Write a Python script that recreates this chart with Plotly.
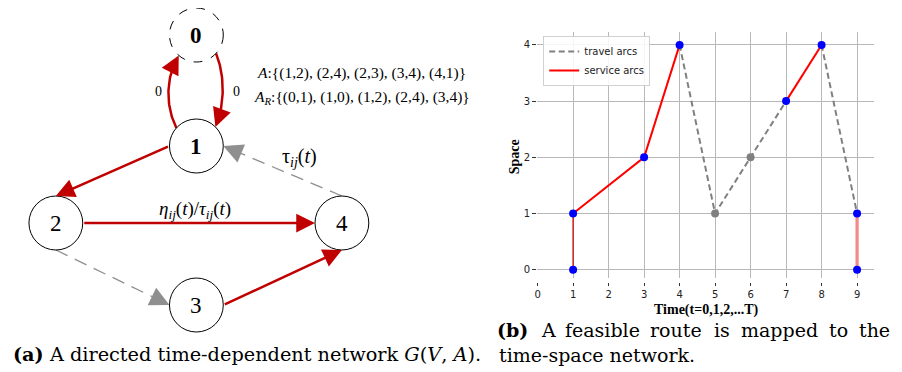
import math
import plotly.graph_objects as go

# ---------------- data: left network ----------------
node_ids = [0, 1, 2, 3, 4]
node_x = [194, 194, 53, 194, 340]
node_y = [35, 146, 223, 305, 223]
node_bold = [True, True, False, False, False]
node_dashed = [True, False, False, False, False]
node_r = 27

edge_src = [1, 0, 1, 2, 3, 4, 2]
edge_dst = [0, 1, 2, 4, 4, 1, 3]
edge_kind = ["service", "service", "service", "service", "service", "travel", "travel"]
edge_src_angle = [222, 43, 180, 0, 0, 270, 90]
edge_dst_angle = [131, 315, 270, 180, 90, 0, 180]
edge_bend = [-11, 9, 0, 0, 0, 0, 0]

set_A = "<i>A</i>:{(1,2), (2,4), (2,3), (3,4), (4,1)}"
set_AR = "<i>A<sub>R</sub></i>:{(0,1), (1,0), (1,2), (2,4), (3,4)}"

# ---------------- data: right time-space chart ----------------
time_ticks = [0, 1, 2, 3, 4, 5, 6, 7, 8, 9]
space_ticks = [0, 1, 2, 3, 4]
start_t, start_s = [1, 1], [0, 1]
service1_t, service1_s = [1, 3, 4], [1, 2, 4]
travel1_t, travel1_s = [4, 5, 6, 7], [4, 1, 2, 3]
service2_t, service2_s = [7, 8], [3, 4]
travel2_t, travel2_s = [8, 9], [4, 1]
end_t, end_s = [9, 9], [1, 0]
stop_t = [1, 1, 3, 4, 7, 8, 9, 9]
stop_s = [0, 1, 2, 4, 3, 4, 1, 0]
pass_t = [5, 6]
pass_s = [1, 2]

caption_a = "<b>(a)</b> A directed time-dependent network <i>G</i>(<i>V</i>, <i>A</i>)."
caption_b_words = ["<b>(b)</b>", "A", "feasible", "route", "is", "mapped", "to", "the"]
caption_b_line2 = "time-space network."

RED = "#c00000"
GRAY = "#8f8f8f"
W, H = 902, 372
OFF = 8  # page body margin


def px(sx):
    return (sx - OFF) / W


def py(sy):
    return 1 - (sy - OFF) / H


fig = go.Figure()
annotations = []
shapes = []

# nodes
for i, nid in enumerate(node_ids):
    shapes.append(dict(type="circle", xref="x", yref="y",
                       x0=node_x[i] - node_r, x1=node_x[i] + node_r,
                       y0=node_y[i] - node_r, y1=node_y[i] + node_r,
                       line=dict(color="black", width=1, dash="dash" if node_dashed[i] else "solid"),
                       fillcolor="white", layer="above"))
    txt = f"<b>{nid}</b>" if node_bold[i] else str(nid)
    annotations.append(dict(x=node_x[i], y=node_y[i], xref="x", yref="y", text=txt,
                            xanchor="center", yanchor="middle",
                            showarrow=False, font=dict(family="Liberation Serif", size=23, color="black")))


def port(n, ang):
    a = math.radians(ang)
    return node_x[n] + node_r * math.cos(a), node_y[n] + node_r * math.sin(a)


for k in range(len(edge_src)):
    sx, sy = port(edge_src[k], edge_src_angle[k])
    tx, ty = port(edge_dst[k], edge_dst_angle[k])
    color = RED if edge_kind[k] == "service" else GRAY
    width = 2.5 if edge_kind[k] == "service" else 1.3
    if edge_bend[k] != 0:
        cx = min(sx, tx) + edge_bend[k] if edge_bend[k] < 0 else max(sx, tx) + edge_bend[k]
        c1 = (cx, sy + (ty - sy) * 0.3)
        c2 = (cx, sy + (ty - sy) * 0.7)
        pts = []
        for j in range(41):
            t = j / 40
            bx = (1 - t) ** 3 * sx + 3 * (1 - t) ** 2 * t * c1[0] + 3 * (1 - t) * t ** 2 * c2[0] + t ** 3 * tx
            by = (1 - t) ** 3 * sy + 3 * (1 - t) ** 2 * t * c1[1] + 3 * (1 - t) * t ** 2 * c2[1] + t ** 3 * ty
            pts.append((bx, by))
        fig.add_trace(go.Scatter(x=[p[0] for p in pts[:36]], y=[p[1] for p in pts[:36]], mode="lines",
                                 line=dict(color=color, width=width), xaxis="x", yaxis="y",
                                 showlegend=False, hoverinfo="skip"))
        ax, ay = pts[35]
        annotations.append(dict(x=tx, y=ty, ax=ax, ay=ay, xref="x", yref="y", axref="x", ayref="y",
                                text="", showarrow=True, arrowhead=2, arrowsize=1.5,
                                arrowwidth=width, arrowcolor=color, standoff=0, startstandoff=0))
    elif edge_kind[k] == "service":
        annotations.append(dict(x=tx, y=ty, ax=sx, ay=sy, xref="x", yref="y", axref="x", ayref="y",
                                text="", showarrow=True, arrowhead=2, arrowsize=1.5,
                                arrowwidth=width, arrowcolor=color, standoff=0, startstandoff=0))
    else:
        L = math.hypot(tx - sx, ty - sy)
        ux, uy = (tx - sx) / L, (ty - sy) / L
        fig.add_trace(go.Scatter(x=[sx, tx - 8 * ux], y=[sy, ty - 8 * uy], mode="lines",
                                 line=dict(color=color, width=width, dash="13px,8px"),
                                 xaxis="x", yaxis="y", showlegend=False, hoverinfo="skip"))
        annotations.append(dict(x=tx, y=ty, ax=tx - 10 * ux, ay=ty - 10 * uy, xref="x", yref="y",
                                axref="x", ayref="y", text="", showarrow=True, arrowhead=2,
                                arrowsize=2.6, arrowwidth=1.5, arrowcolor=color, standoff=0))

# edge labels
lab_font = dict(family="Liberation Serif", size=14, color="black")
annotations += [
    dict(x=156, y=91, text="0", font=lab_font),
    dict(x=234, y=91, text="0", font=lab_font),
    dict(x=297, y=157, text="τ<sub><i>ij</i></sub>(<i>t</i>)",
         font=dict(family="Liberation Serif", size=20, color="black")),
    dict(x=193, y=210, text="<i>η<sub>ij</sub></i>(<i>t</i>)/<i>τ<sub>ij</sub></i>(<i>t</i>)",
         font=dict(family="Liberation Serif", size=19, color="black")),
    dict(x=360, y=73, text=set_A, font=dict(family="Liberation Serif", size=15.5, color="black")),
    dict(x=360, y=97, text=set_AR, font=dict(family="Liberation Serif", size=15.5, color="black")),
]
for a in annotations[-6:]:
    a.update(xref="x", yref="y", showarrow=False, xanchor="center", yanchor="middle")

# ---------------- right chart ----------------
fig.add_trace(go.Scatter(x=start_t, y=start_s, mode="lines", line=dict(color="#d40000", width=1.3),
                         xaxis="x2", yaxis="y2", showlegend=False, hoverinfo="skip"))
fig.add_trace(go.Scatter(x=end_t, y=end_s, mode="lines", line=dict(color="#f28a8a", width=3.2),
                         xaxis="x2", yaxis="y2", showlegend=False, hoverinfo="skip"))
fig.add_trace(go.Scatter(x=travel1_t, y=travel1_s, mode="lines", name="travel arcs",
                         line=dict(color="#808080", width=2, dash="6px,3.5px"),
                         xaxis="x2", yaxis="y2", legendgroup="travel"))
fig.add_trace(go.Scatter(x=service1_t, y=service1_s, mode="lines", name="service arcs",
                         line=dict(color="#ff0000", width=2), xaxis="x2", yaxis="y2", legendgroup="service"))
fig.add_trace(go.Scatter(x=service2_t, y=service2_s, mode="lines", line=dict(color="#ff0000", width=2),
                         xaxis="x2", yaxis="y2", legendgroup="service", showlegend=False))
fig.add_trace(go.Scatter(x=travel2_t, y=travel2_s, mode="lines",
                         line=dict(color="#808080", width=2, dash="6px,3.5px"),
                         xaxis="x2", yaxis="y2", legendgroup="travel", showlegend=False))
fig.add_trace(go.Scatter(x=pass_t, y=pass_s, mode="markers", marker=dict(color="#808080", size=8),
                         xaxis="x2", yaxis="y2", showlegend=False))
fig.add_trace(go.Scatter(x=stop_t, y=stop_s, mode="markers", marker=dict(color="#0000ff", size=8),
                         xaxis="x2", yaxis="y2", showlegend=False))

tick_font = dict(family="DejaVu Sans", size=10, color="#222222")
axis_title_font = dict(family="Liberation Serif", size=14, color="black")
annotations += [
    dict(x=px(705), y=py(310), xref="paper", yref="paper", text="<b>Time(t=0,1,2,...T)</b>",
         xanchor="center", yanchor="middle", showarrow=False, font=axis_title_font),
    dict(x=px(513), y=py(157), xref="paper", yref="paper", text="<b>Space</b>", textangle=-90,
         xanchor="center", yanchor="middle", showarrow=False, font=axis_title_font),
]

cap_font = dict(family="DejaVu Serif", size=19, color="black")
annotations.append(dict(x=px(8), y=py(354), xref="paper", yref="paper", xanchor="left", yanchor="middle",
                        text=caption_a, showarrow=False, font=dict(family="DejaVu Serif", size=19.3,
                                                                    color="black")))
word_left = [494, 538, 562, 647, 711, 738, 827, 857]
for wtxt, wx in zip(caption_b_words, word_left):
    annotations.append(dict(x=px(wx), y=py(330), xref="paper", yref="paper", xanchor="left",
                            yanchor="middle", text=wtxt, showarrow=False, font=cap_font))
annotations.append(dict(x=px(496), y=py(355), xref="paper", yref="paper", xanchor="left", yanchor="middle",
                        text=caption_b_line2, showarrow=False, font=cap_font))

fig.update_layout(
    width=W, height=H, margin=dict(l=0, r=0, t=0, b=0),
    paper_bgcolor="white", plot_bgcolor="rgba(0,0,0,0)",
    xaxis=dict(domain=[0, 480 / W], range=[OFF, 480 + OFF], visible=False, fixedrange=True),
    yaxis=dict(domain=[0, 1], range=[H + OFF, OFF], visible=False, fixedrange=True),
    xaxis2=dict(domain=[px(536), px(874)], range=[-0.01, 9.48], anchor="free", position=py(282),
                tickvals=time_ticks, ticktext=[str(v) for v in time_ticks],
                showgrid=True, gridcolor="#b8b8b8", gridwidth=1, zeroline=False, showline=False,
                ticks="outside", ticklen=3, tickcolor="#333", tickfont=tick_font),
    yaxis2=dict(domain=[py(278), py(32)], range=[-0.148, 4.23], anchor="x2",
                tickvals=space_ticks, showgrid=True, gridcolor="#b8b8b8", gridwidth=1,
                zeroline=False, showline=False, ticks="outside", ticklen=4, tickcolor="#333",
                tickfont=tick_font),
    legend=dict(x=px(542), y=py(36), xanchor="left", yanchor="top",
                bgcolor="rgba(255,255,255,0.85)", bordercolor="#d0d0d0", borderwidth=1,
                font=dict(family="DejaVu Sans", size=10, color="#222"), itemwidth=30,
                tracegroupgap=0),
    shapes=shapes, annotations=annotations, showlegend=True,
)

fig.write_html("out.html")
